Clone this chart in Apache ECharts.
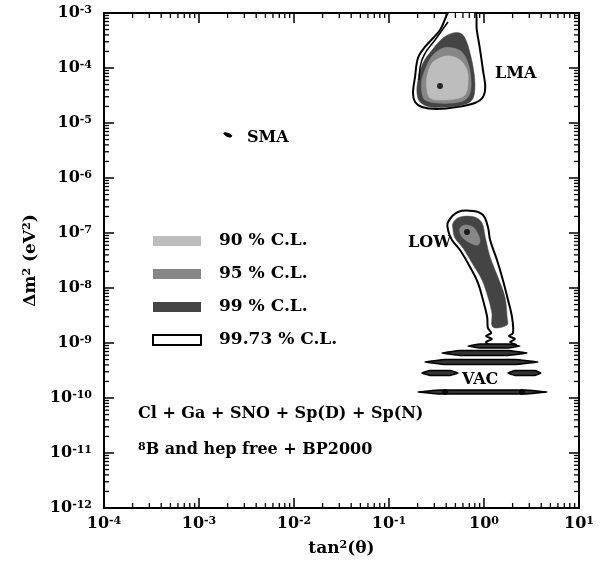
<!DOCTYPE html>
<html><head><meta charset="utf-8">
<script src="https://cdn.jsdelivr.net/npm/echarts@6/dist/echarts.min.js"></script>
<style>html,body{margin:0;padding:0;background:#fff}#c{width:609px;height:568px}</style>
</head><body><div id="c"></div>
<script>
// ---- axis ranges / ticks ----
const xRange = [1e-4, 10];
const yRange = [1e-12, 1e-3];

// ---- contour regions [tan^2(theta), dm^2 (eV^2)] ----
const lmaOuter = [[0.46,1.23e-3],[0.344,4.9e-4],[0.239,2.41e-4],[0.202,1.52e-4],[0.188,6.9e-5],[0.179,3.5e-5],[0.188,2.41e-5],[0.222,1.95e-5],[0.32,1.80e-5],[0.52,1.95e-5],[0.80,2.31e-5],[0.975,2.97e-5],[1.03,4.5e-5],[0.975,9.2e-5],[0.91,2.12e-4],[0.84,4.9e-4],[0.785,1.23e-3]];
const lmaInnerEdge = [[0.418,6.86e-4],[0.305,3.23e-4],[0.234,1.72e-4],[0.212,1e-4],[0.207,6.05e-5]];
const lma99 = [[0.472,4.33e-4],[0.37,3.51e-4],[0.284,2.12e-4],[0.228,1.23e-4],[0.202,6.05e-5],[0.197,3.51e-5],[0.212,2.41e-5],[0.27,1.95e-5],[0.408,1.95e-5],[0.601,2.12e-5],[0.748,2.62e-5],[0.80,3.98e-5],[0.785,8.1e-5],[0.713,1.87e-4],[0.631,3.51e-4],[0.559,4.33e-4]];
const lma95 = [[0.37,2.31e-4],[0.29,1.72e-4],[0.251,1.13e-4],[0.222,6.05e-5],[0.222,3.51e-5],[0.239,2.62e-5],[0.32,2.31e-5],[0.472,2.31e-5],[0.631,2.62e-5],[0.713,3.51e-5],[0.73,6.05e-5],[0.679,1.23e-4],[0.586,1.95e-4],[0.472,2.31e-4]];
const lma90 = [[0.361,1.58e-4],[0.284,1.23e-4],[0.251,6.86e-5],[0.251,3.98e-5],[0.27,2.85e-5],[0.344,2.62e-5],[0.495,2.73e-5],[0.631,3.23e-5],[0.679,5.33e-5],[0.662,9.2e-5],[0.559,1.40e-4],[0.439,1.65e-4]];

const lowOuter = [[0.418,1.58e-7],[0.532,2.41e-7],[0.766,2.51e-7],[0.976,2.12e-7],[1.10,1.29e-7],[1.16,7.46e-8],[1.37,3.23e-8],[1.58,1.40e-8],[1.79,6.05e-9],[1.97,2.97e-9],[2.02,1.52e-9],[1.83,1.34e-9],[2.12,1.18e-9],[1.88,1.04e-9],[2.17,9.2e-10],[1.16,9.2e-10],[1.05,1.04e-9],[1.21,1.18e-9],[1.05,1.34e-9],[1.19,1.52e-9],[1.10,1.87e-9],[1.08,2.97e-9],[0.976,6.05e-9],[0.865,1.23e-8],[0.713,2.41e-8],[0.559,4.91e-8],[0.46,7.46e-8],[0.418,1.13e-7]];
const low99 = [[0.472,1.52e-7],[0.559,1.95e-7],[0.80,1.95e-7],[0.953,1.52e-7],[1.03,8.46e-8],[1.16,3.66e-8],[1.40,1.58e-8],[1.66,6.86e-9],[1.75,2.97e-9],[1.75,2.12e-9],[1.24,1.95e-9],[1.21,3.51e-9],[1.10,6.86e-9],[0.953,1.40e-8],[0.748,2.85e-8],[0.601,5.33e-8],[0.495,8.1e-8],[0.472,1.13e-7]];
const low95 = [[0.559,1.23e-7],[0.631,1.40e-7],[0.766,1.29e-7],[0.844,1.04e-7],[0.908,7.46e-8],[0.865,6.05e-8],[0.713,6.58e-8],[0.601,8.1e-8],[0.559,1e-7]];

const vacBand1 = [[0.679,8.81e-10],[0.908,9.59e-10],[1.27,9.59e-10],[1.79,9.59e-10],[2.39,8.81e-10],[1.79,8.11e-10],[1.27,8.11e-10],[0.908,8.11e-10]];
const vacBand2 = [[0.361,6.58e-10],[0.559,7.31e-10],[1.0,7.31e-10],[1.79,7.31e-10],[2.84,6.58e-10],[1.79,5.93e-10],[1.0,5.93e-10],[0.559,5.93e-10]];
const vacBand3 = [[0.239,4.52e-10],[0.389,5.01e-10],[0.908,5.01e-10],[2.12,5.01e-10],[3.70,4.52e-10],[2.12,4.06e-10],[0.908,4.06e-10],[0.389,4.06e-10]];
const vacBand4a = [[0.222,2.85e-10],[0.27,3.16e-10],[0.344,3.16e-10],[0.439,3.16e-10],[0.532,2.85e-10],[0.439,2.57e-10],[0.344,2.57e-10],[0.27,2.57e-10]];
const vacBand4b = [[1.79,2.85e-10],[2.12,3.16e-10],[2.70,3.16e-10],[3.44,3.16e-10],[3.98,2.85e-10],[3.44,2.57e-10],[2.70,2.57e-10],[2.12,2.57e-10]];
const vacBand5 = [[0.202,1.29e-10],[0.344,1.40e-10],[0.953,1.40e-10],[2.70,1.40e-10],[4.60,1.29e-10],[2.70,1.18e-10],[0.953,1.18e-10],[0.344,1.18e-10]];
const smaRegion = [[1.83e-3,6.58e-6],[2.07e-3,6.4e-6],[2.22e-3,5.8e-6],[2.07e-3,5.56e-6],[1.88e-3,6.05e-6]];

const bestFit = [[0.344,4.7e-5],[0.662,1.04e-7],[0.389,1.29e-10],[2.51,1.29e-10]];

const levelNames = ['90 % C.L.', '95 % C.L.', '99 % C.L.', '99.73 % C.L.'];

// ---- minor ticks (2..9 x 10^k) ----
const xMinor = [], yMinor = [];
for (let k = -4; k < 1; k++) for (let m = 2; m <= 9; m++) xMinor.push(m * Math.pow(10, k));
for (let k = -12; k < -3; k++) for (let m = 2; m <= 9; m++) yMinor.push(m * Math.pow(10, k));

const FONT = '"DejaVu Serif", serif';
const C90 = '#bdbdbd', C95 = '#878787', C99 = '#444444';

function regionSeries(name, regions, style, smooth) {
  return {
    type: 'custom', name: name, clip: true, silent: true,
    xAxisIndex: 0, yAxisIndex: 0,
    itemStyle: { color: style.fill },
    data: regions.map(r => r[0]),
    renderItem: function (params, api) {
      const pts = regions[params.dataIndex].map(p => api.coord(p));
      return { type: 'polygon', shape: { points: pts, smooth: smooth }, style: style };
    }
  };
}

const chart = echarts.init(document.getElementById('c'), null, { renderer: 'canvas' });

const supFmt = v => '{b|10}{s|' + Math.round(Math.log10(v)) + '}';
const labelRich = {
  b: { fontSize: 16, fontWeight: 'bold', fontFamily: FONT, color: '#000' },
  s: { fontSize: 11, fontWeight: 'bold', fontFamily: FONT, color: '#000', verticalAlign: 'top' }
};

const baseAxis = {
  type: 'log', logBase: 10, interval: 1,
  axisLine: { show: true, onZero: false, lineStyle: { color: '#000', width: 2 } },
  axisTick: { show: true, inside: true, length: 10, lineStyle: { color: '#000', width: 1.5 } },
  splitLine: { show: false }, minorTick: { show: false }
};

const tickStyle = { stroke: '#000', lineWidth: 1.3 };

const option = {
  backgroundColor: '#fff',
  animation: false,
  grid: { left: 104, right: 30, top: 13, bottom: 60, containLabel: false },
  xAxis: [
    Object.assign({}, baseAxis, {
      position: 'bottom', min: xRange[0], max: xRange[1],
      axisLabel: { formatter: supFmt, rich: labelRich, margin: 8 },
      name: '{b|tan}{s|2}{b|(θ)}', nameLocation: 'middle', nameGap: 32,
      nameTextStyle: { rich: {
        b: { fontSize: 17, fontWeight: 'bold', fontFamily: FONT, color: '#000' },
        s: { fontSize: 11, fontWeight: 'bold', fontFamily: FONT, color: '#000', verticalAlign: 'top' } } }
    }),
    Object.assign({}, baseAxis, {
      position: 'top', min: xRange[0], max: xRange[1], axisLabel: { show: false }
    })
  ],
  yAxis: [
    Object.assign({}, baseAxis, {
      position: 'left', min: yRange[0], max: yRange[1],
      axisLabel: { formatter: supFmt, rich: labelRich, margin: 12 },
      name: '{b|Δm}{s|2}{b| (eV}{s|2}{b|)}', nameLocation: 'middle', nameGap: 64, nameRotate: 90,
      nameTextStyle: { rich: {
        b: { fontSize: 17, fontWeight: 'bold', fontFamily: FONT, color: '#000' },
        s: { fontSize: 11, fontWeight: 'bold', fontFamily: FONT, color: '#000', verticalAlign: 'top' } } }
    }),
    Object.assign({}, baseAxis, {
      position: 'right', min: yRange[0], max: yRange[1], axisLabel: { show: false }
    })
  ],
  legend: {
    show: true, orient: 'vertical', left: 147, top: 226, selectedMode: false,
    itemWidth: 48, itemHeight: 10, itemGap: 13,
    textStyle: { fontFamily: FONT, fontWeight: 'bold', fontSize: 17, color: '#000', lineHeight: 20, padding: [0, 0, 0, 13] },
    data: [
      { name: levelNames[0], icon: 'rect', itemStyle: { color: C90, borderWidth: 0 } },
      { name: levelNames[1], icon: 'rect', itemStyle: { color: C95, borderWidth: 0 } },
      { name: levelNames[2], icon: 'rect', itemStyle: { color: C99, borderWidth: 0 } },
      { name: levelNames[3], icon: 'rect', itemStyle: { color: '#fff', borderColor: '#000', borderWidth: 2 } }
    ]
  },
  graphic: [
    { type: 'text', x: 495, y: 74, style: { text: 'LMA', font: 'bold 16px ' + FONT, fill: '#000', verticalAlign: 'middle' } },
    { type: 'text', x: 247, y: 138, style: { text: 'SMA', font: 'bold 16px ' + FONT, fill: '#000', verticalAlign: 'middle' } },
    { type: 'text', x: 408, y: 243, style: { text: 'LOW', font: 'bold 16px ' + FONT, fill: '#000', verticalAlign: 'middle' } },
    { type: 'text', x: 462, y: 380, style: { text: 'VAC', font: 'bold 16px ' + FONT, fill: '#000', verticalAlign: 'middle' } },
    { type: 'text', x: 138, y: 414, style: { text: 'Cl + Ga + SNO + Sp(D) + Sp(N)', font: 'bold 16px ' + FONT, fill: '#000', verticalAlign: 'middle' } },
    { type: 'text', x: 138, y: 450, style: { text: '{s|8}{n|B and hep free + BP2000}', verticalAlign: 'middle',
        rich: { s: { fontSize: 11, fontWeight: 'bold', fontFamily: FONT, fill: '#000', verticalAlign: 'top' },
                n: { fontSize: 16, fontWeight: 'bold', fontFamily: FONT, fill: '#000' } } } }
  ],
  series: [
    regionSeries(levelNames[3], [lmaOuter, lowOuter], { fill: '#fff', stroke: '#000', lineWidth: 2 }, 0.35),
    regionSeries(levelNames[2], [lma99, low99], { fill: C99, stroke: C99, lineWidth: 0.5 }, 0.35),
    regionSeries(levelNames[1], [lma95, low95], { fill: C95, stroke: C95, lineWidth: 0.5 }, 0.35),
    regionSeries(levelNames[0], [lma90], { fill: C90, stroke: C90, lineWidth: 0.5 }, 0.35),
    regionSeries('VAC', [vacBand1, vacBand2, vacBand3, vacBand4a, vacBand4b, vacBand5], { fill: '#333', stroke: '#000', lineWidth: 1.5 }, 0.1),
    regionSeries('SMA', [smaRegion], { fill: '#000', stroke: '#000', lineWidth: 1 }, 0.4),
    {
      type: 'line', name: 'lmaEdge', data: lmaInnerEdge, smooth: true, symbol: 'none', silent: true,
      lineStyle: { color: '#000', width: 1.5 }, clip: true
    },
    {
      type: 'scatter', name: 'best fit', data: bestFit, symbol: 'circle', symbolSize: 6, silent: true,
      itemStyle: { color: '#000' }
    },
    {
      type: 'custom', name: 'xMinorTicks', silent: true, clip: false,
      data: xMinor.map(v => [v, yRange[0]]),
      renderItem: function (params, api) {
        const v = api.value(0);
        const b = api.coord([v, yRange[0]]), t = api.coord([v, yRange[1]]);
        return { type: 'group', children: [
          { type: 'line', shape: { x1: b[0], y1: b[1], x2: b[0], y2: b[1] - 5 }, style: tickStyle },
          { type: 'line', shape: { x1: t[0], y1: t[1], x2: t[0], y2: t[1] + 5 }, style: tickStyle }
        ] };
      }
    },
    {
      type: 'custom', name: 'yMinorTicks', silent: true, clip: false,
      data: yMinor.map(v => [xRange[0], v]),
      renderItem: function (params, api) {
        const v = api.value(1);
        const l = api.coord([xRange[0], v]), r = api.coord([xRange[1], v]);
        return { type: 'group', children: [
          { type: 'line', shape: { x1: l[0], y1: l[1], x2: l[0] + 5, y2: l[1] }, style: tickStyle },
          { type: 'line', shape: { x1: r[0], y1: r[1], x2: r[0] - 5, y2: r[1] }, style: tickStyle }
        ] };
      }
    }
  ]
};
chart.setOption(option);
</script>
</body></html>
